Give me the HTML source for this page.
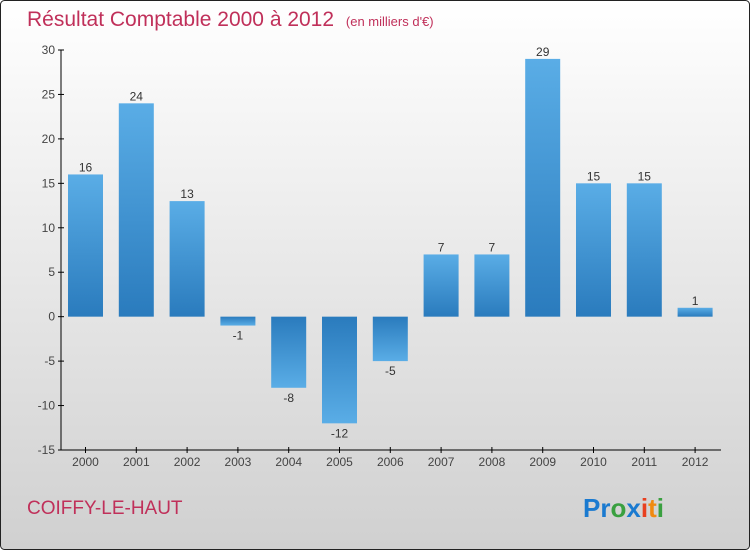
<!DOCTYPE html>
<html><head><meta charset="utf-8"><style>
body{margin:0;width:750px;height:550px;overflow:hidden;font-family:"Liberation Sans",sans-serif}
</style></head><body>
<svg id="c" width="750" height="550" xmlns="http://www.w3.org/2000/svg">
<defs>
<linearGradient id="bg" x1="0" y1="0" x2="0" y2="1"><stop offset="0" stop-color="#ffffff"/><stop offset="1" stop-color="#d0d0d0"/></linearGradient>
<linearGradient id="bp" x1="0" y1="0" x2="0" y2="1"><stop offset="0" stop-color="#5aade6"/><stop offset="1" stop-color="#2a7bbd"/></linearGradient>
<linearGradient id="bn" x1="0" y1="0" x2="0" y2="1"><stop offset="0" stop-color="#2a7bbd"/><stop offset="1" stop-color="#5aade6"/></linearGradient>
</defs>
<rect x="0.5" y="0.5" width="749" height="549" rx="4" fill="url(#bg)" stroke="#222"/>
<text x="27" y="26" font-size="21" fill="#c0305a">Résultat Comptable 2000 à 2012 <tspan font-size="13" dx="6">(en milliers d'€)</tspan></text>
<text x="27" y="514" font-size="19" fill="#c0305a">COIFFY-LE-HAUT</text>
<text x="583" y="517" font-size="26" font-weight="bold"><tspan fill="#1a7ad0">Pr</tspan><tspan fill="#3aa040">o</tspan><tspan fill="#1a7ad0">x</tspan><tspan fill="#e84020">i</tspan><tspan fill="#f08a10">t</tspan><tspan fill="#3aa040">i</tspan></text>
<g id="g"></g>
</svg>
<script>
const years=["2000","2001","2002","2003","2004","2005","2006","2007","2008","2009","2010","2011","2012"];
const values=[16,24,13,-1,-8,-12,-5,7,7,29,15,15,1];
const ticks=[30,25,20,15,10,5,0,-5,-10,-15];
const NS="http://www.w3.org/2000/svg";
const g=document.getElementById('g');
const y=v=>50+(30-v)*400/45;
const x=i=>85.5+i*50.8;
function mk(t,a){const e=document.createElementNS(NS,t);for(const k in a)e.setAttribute(k,a[k]);g.appendChild(e);return e;}
let ax=mk('line',{x1:61,y1:50,x2:61,y2:450,stroke:'#000'});


let xa=mk('line',{x1:61,y1:450,x2:721,y2:450,stroke:'#000'});


ticks.forEach(t=>{
 mk('line',{x1:58,y1:y(t),x2:64,y2:y(t),stroke:'#000'});
 let tx=mk('text',{x:55,y:y(t)+4,'font-size':12,fill:'#444','text-anchor':'end'});tx.textContent=t;
 
 
});
years.forEach((yr,i)=>{
 const v=values[i],cx=x(i);
 mk('line',{x1:cx,y1:447,x2:cx,y2:453,stroke:'#000'});
 let tl=mk('text',{x:cx,y:466,'font-size':12,fill:'#444','text-anchor':'middle'});tl.textContent=yr;
 
 
 const top=Math.min(y(v),y(0)),h=Math.abs(y(v)-y(0));
 let b=mk('rect',{x:cx-17.5,y:top,width:35,height:h,fill:v>=0?'url(#bp)':'url(#bn)'});
 
 
 let lb=mk('text',{x:cx,y:v>=0?y(v)-3:y(v)+14,'font-size':12,fill:'#333','text-anchor':'middle'});lb.textContent=v;
 
 
});
</script>
</body></html>
